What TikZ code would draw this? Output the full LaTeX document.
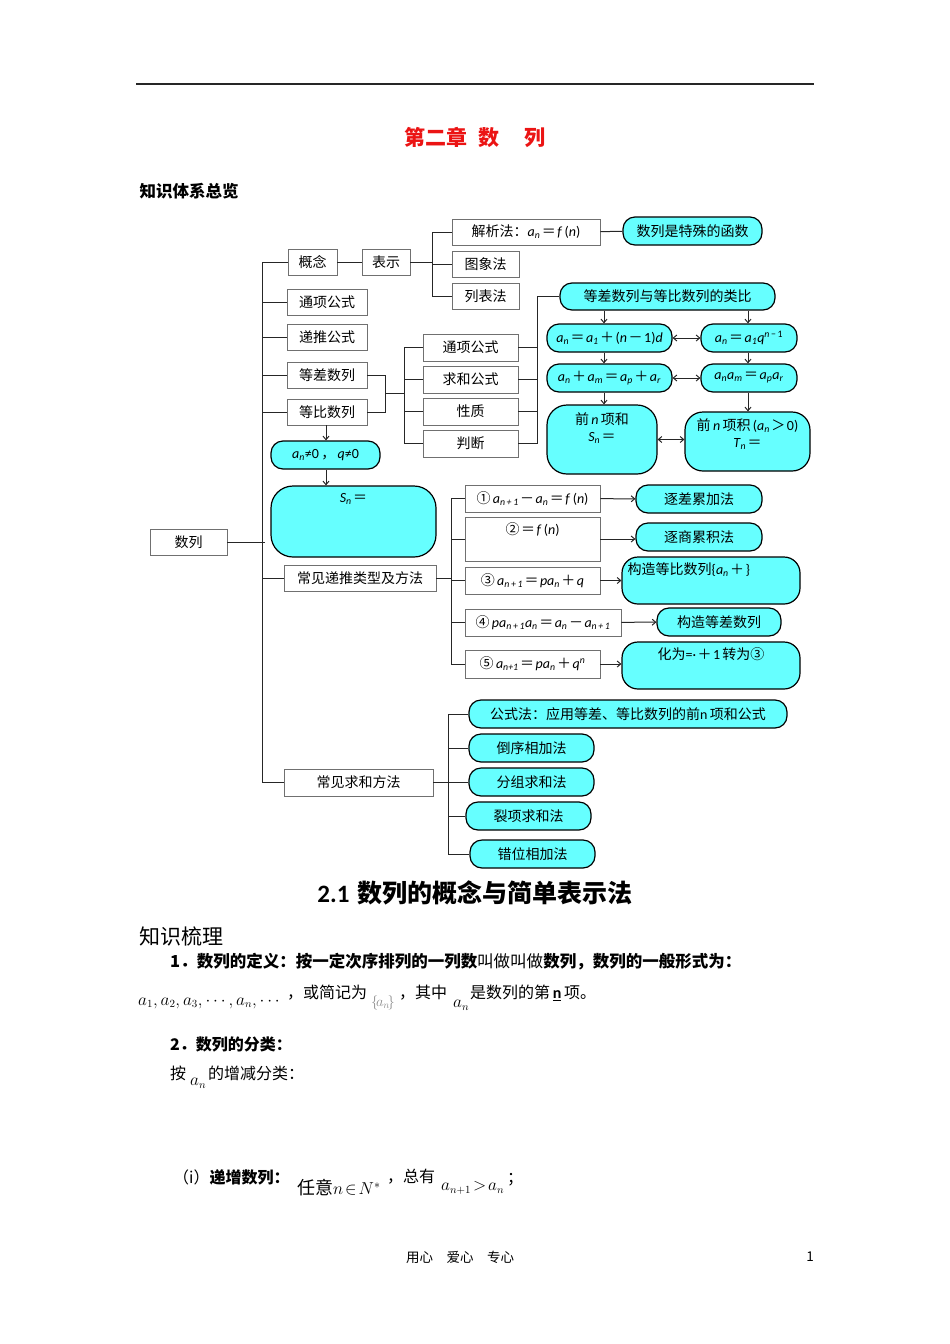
\documentclass[tikz,border=0pt]{standalone}
\usepackage{fontspec}
\setmainfont{Noto Sans CJK SC}
\newfontfamily\calfont{Carlito}
\usetikzlibrary{arrows.meta,positioning,calc}
\definecolor{cyanfill}{RGB}{102,255,255}
\definecolor{boxline}{RGB}{112,112,112}
\definecolor{titlered}{RGB}{235,20,20}
\newcommand\bx{\fontsize{14}{17}\selectfont}
\newcommand\tx{\fontsize{16}{19}\selectfont}
\newcommand\mt[1]{{\calfont #1}}
\newcommand\vi[1]{{\calfont\textit{#1}}}
\newcommand\va[2]{{\calfont\textit{#1}\textsubscript{\textit{#2}}}}
\newcommand\eqs{\hspace{1.5pt}＝\hspace{1.5pt}}
\newcommand\pls{\hspace{1.5pt}＋\hspace{1.5pt}}
\newcommand\mns{\hspace{1.5pt}－\hspace{1.5pt}}

\begin{document}
\begin{tikzpicture}[x=1pt, y=-1pt,
    box/.style={draw=boxline, line width=0.9pt, fill=white, minimum height=26, inner sep=1pt, font=\bx},
    cy/.style={draw=black, line width=1.2pt, fill=cyanfill, rounded corners=12, minimum height=28, inner sep=1pt, font=\bx},
    link/.style={line width=1pt, black!85},
    arr/.style={link, -{Straight Barb[length=3.5pt,width=6pt]}},
    darr/.style={link, {Straight Barb[length=3.5pt,width=6pt]}-{Straight Barb[length=3.5pt,width=6pt]}},
    inlabel/.style={anchor=north, font=\bx, inner sep=1pt},
    line/.style={anchor=west, inner sep=0pt, font=\tx}]
  \useasboundingbox (0,0) rectangle (950,1344);
  % ---- page head
  \draw[line width=1.6pt, black!85] (136,84) -- (814,84);
  \node[text=titlered, font=\fontsize{21}{25}\selectfont\bfseries] (title) at (475,137)
    {第二章\hspace{12pt}数\hspace{25pt}列};
  \node[anchor=west, font=\fontsize{16.5}{20}\selectfont\bfseries] (overview) at (136,191) {知识体系总览};

  % ---- left column
  \node[box, minimum width=49] (gainian) at (312.5,262.5) {概念};
  \node[box, minimum width=48] (biaoshi) at (386,262.5) {表示};
  \node[box, minimum width=80] (tongxiang) at (327,302) {通项公式};
  \node[box, minimum width=80] (ditui) at (327,337) {递推公式};
  \node[box, minimum width=80] (dengcha) at (327,375) {等差数列};
  \node[box, minimum width=80] (dengbi) at (327,412) {等比数列};
  \node[cy, minimum width=109] (tiaojian) at (325.5,455) {\mt{\textit{a}\textsubscript{\textit{n}}≠0}\,，\,\mt{\textit{q}≠0}};
  \node[cy, minimum width=165, minimum height=71, rounded corners=22,
    label={[inlabel, yshift=-7pt]north:\va{S}{n}\eqs}] (dbsum) at (353.5,521.5) {};
  \node[box, minimum width=77] (shulie) at (188.5,542) {数列};
  \node[box, minimum width=152] (dituilei) at (360,578) {常见递推类型及方法};
  \node[box, minimum width=149, minimum height=27] (qiuhe) at (358.5,782.5) {常见求和方法};

  % ---- ways of writing a sequence
  \node[box, minimum width=148] (jiexi) at (526,232) {解析法：\va{a}{n}\eqs\vi{f}\,\mt{(}\vi{n}\mt{)}};
  \node[box, minimum width=67] (tuxiang) at (485.5,264) {图象法};
  \node[box, minimum width=67] (liebiao) at (485.5,296) {列表法};
  \node[cy, minimum width=139] (hanshu) at (692.5,231) {数列是特殊的函数};

  % ---- middle column
  \node[box, minimum width=95, minimum height=27] (mtx) at (470.5,347.5) {通项公式};
  \node[box, minimum width=95, minimum height=27] (mqh) at (470.5,379.5) {求和公式};
  \node[box, minimum width=95, minimum height=27] (mxz) at (470.5,411.5) {性质};
  \node[box, minimum width=95, minimum height=27] (mpd) at (470.5,443.5) {判断};

  % ---- the analogy block
  \node[cy, minimum width=215, minimum height=27] (leibi) at (667.5,296.5) {等差数列与等比数列的类比};
  \node[cy, minimum width=125] (ca) at (609.5,338) {\va{a}{n}\eqs\va{a}{1}\pls\mt{(}\vi{n}\mns\mt{1)}\vi{d}};
  \node[cy, minimum width=96] (cb) at (749,338) {\va{a}{n}\eqs\va{a}{1}\vi{q}\textsuperscript{\vi{n}\,\mt{−}\,\mt{1}}};
  \node[cy, minimum width=125] (cc) at (609.5,378) {\va{a}{n}\pls\va{a}{m}\eqs\va{a}{p}\pls\va{a}{r}};
  \node[cy, minimum width=96] (cd) at (749,378) {\va{a}{n}\va{a}{m}\eqs\va{a}{p}\va{a}{r}};
  \node[cy, minimum width=110, minimum height=69, rounded corners=20,
    label={[inlabel, align=center, yshift=-7pt]north:前\,\vi{n}\,项和\\\va{S}{n}\eqs}] (csum) at (602,439.5) {};
  \node[cy, minimum width=125, minimum height=59, rounded corners=18,
    label={[inlabel, align=center, yshift=-6pt]north:前\,\vi{n}\,项积\,\mt{(}\va{a}{n}\hspace{1.5pt}＞\hspace{1.5pt}\mt{0)}\\\va{T}{n}\eqs}] (cprod) at (747.5,441.5) {};

  % ---- recursion types
  \node[box, minimum width=135, minimum height=27] (r1) at (532.5,498.5) {①\,\va{a}{n\,+\,1}\mns\va{a}{n}\eqs\vi{f}\,\mt{(}\vi{n}\mt{)}};
  \node[box, minimum width=135, minimum height=44,
    label={[inlabel, yshift=-5pt]north:②\eqs\vi{f}\,\mt{(}\vi{n}\mt{)}}] (r2) at (532.5,539) {};
  \node[box, minimum width=135, minimum height=27] (r3) at (532.5,580.5) {③\,\va{a}{n\,+\,1}\eqs\vi{p}\va{a}{n}\pls\vi{q}};
  \node[box, minimum width=156, minimum height=27] (r4) at (543,622.5) {④\,\vi{p}\va{a}{n\,+\,1}\va{a}{n}\eqs\va{a}{n}\mns\va{a}{n\,+\,1}};
  \node[box, minimum width=135, minimum height=28] (r5) at (532.5,664) {⑤\,\va{a}{n+1}\eqs\vi{p}\va{a}{n}\pls\vi{q}\textsuperscript{\vi{n}}};
  \node[cy, minimum width=126] (m1) at (699,499) {逐差累加法};
  \node[cy, minimum width=126] (m2) at (699,537) {逐商累积法};
  \node[cy, minimum width=178, minimum height=47, rounded corners=16,
    label={[inlabel, anchor=north west, xshift=5pt, yshift=-5pt]north west:构造等比数列\mt{\{}\va{a}{n}\pls\mt{\}}}] (m3) at (711,580.5) {};
  \node[cy, minimum width=124] (m4) at (719,622) {构造等差数列};
  \node[cy, minimum width=178, minimum height=47, rounded corners=16,
    label={[inlabel, yshift=-5pt]north:化为\mt{=·}\pls\mt{1}\,转为③}] (m5) at (711,665.5) {};

  % ---- summation methods
  \node[cy, minimum width=318] (s1) at (628,714) {公式法：应用等差、等比数列的前\mt{n}\,项和公式};
  \node[cy, minimum width=125] (s2) at (531.5,748) {倒序相加法};
  \node[cy, minimum width=125] (s3) at (531.5,782) {分组求和法};
  \node[cy, minimum width=125] (s4) at (528.5,816) {裂项求和法};
  \node[cy, minimum width=125] (s5) at (532.5,854) {错位相加法};

  % ---- bracket positions
  \coordinate (trunk) at (262,0);
  \coordinate (br1) at (432,0);
  \coordinate (br2) at (385,393.5);
  \coordinate (br3) at (404,0);
  \coordinate (br4) at (537,0);
  \coordinate (br5) at (451,0);
  \coordinate (br6) at (448,0);
  \coordinate (ax1) at (604,0);
  \coordinate (ax2) at (748,0);
  \coordinate (ax3) at (326,0);

  % ---- connectors
  \draw[link] (gainian.west) -| (trunk |- qiuhe.west) -- (qiuhe.west);
  \foreach \n in {tongxiang,ditui,dengcha,dengbi,dituilei}
    \draw[link] (\n.west) -- (trunk |- \n.west);
  \draw[link] (shulie.east) -- ++(38,0);
  \draw[link] (gainian) -- (biaoshi);
  \draw[link] (biaoshi.east) -- (br1 |- biaoshi.east);
  \draw[link] (jiexi.west) -| (br1 |- liebiao.west) -- (liebiao.west);
  \draw[link] (tuxiang.west) -- (br1 |- tuxiang.west);
  \draw[link] (jiexi) -- (hanshu);
  \draw[link] (dengcha.east) -| (br2 |- dengbi.east) -- (dengbi.east);
  \draw[link] (br2) -- (br3 |- br2);
  \draw[link] (mtx.west) -| (br3 |- mpd.west) -- (mpd.west);
  \foreach \n in {mqh,mxz}
    \draw[link] (\n.west) -- (br3 |- \n.west);
  \draw[link] (mpd.east) -| (br4 |- leibi.west) -- (leibi.west);
  \foreach \n in {mtx,mqh,mxz}
    \draw[link] (\n.east) -- (br4 |- \n.east);
  % analogy arrows
  \draw[arr] (ax1 |- leibi.south) -- (ax1 |- ca.north);
  \draw[arr] (ax1 |- ca.south) -- (ax1 |- cc.north);
  \draw[arr] (ax1 |- cc.south) -- (ax1 |- csum.north);
  \draw[arr] (ax2 |- leibi.south) -- (ax2 |- cb.north);
  \draw[arr] (ax2 |- cb.south) -- (ax2 |- cd.north);
  \draw[arr] (ax2 |- cd.south) -- (ax2 |- cprod.north);
  \draw[darr] (ca) -- (cb);
  \draw[darr] (cc) -- (cd);
  \draw[darr] (csum.east) -- (csum.east -| cprod.west);
  \draw[arr] (ax3 |- dengbi.south) -- (ax3 |- tiaojian.north);
  \draw[arr] (ax3 |- tiaojian.south) -- (ax3 |- dbsum.north);
  % recursion bracket
  \draw[link] (dituilei.east) -- (br5 |- dituilei.east);
  \draw[link] (r1.west) -| (br5 |- r5.west) -- (r5.west);
  \foreach \n in {r2,r3,r4}
    \draw[link] (\n.west) -- (br5 |- \n.west);
  \draw[arr] (r1) -- (m1);
  \draw[arr] (r2.east) -- (r2.east -| m2.west);
  \draw[arr] (r3) -- (m3);
  \draw[arr] (r4) -- (m4);
  \draw[arr] (r5.east) -- (r5.east -| m5.west);
  % summation bracket
  \draw[link] (qiuhe.east) -- (br6 |- qiuhe.east);
  \draw[link] (s1.west) -| (br6 |- s5.west) -- (s5.west);
  \foreach \n in {s2,s3,s4}
    \draw[link] (\n.west) -- (br6 |- \n.west);

  % ---- text below the chart
  \node[font=\fontsize{25}{29}\selectfont\bfseries] (sec) at (475,893) {\mt{2.1}\hspace{8pt}数列的概念与简单表示法};
  \node[anchor=west, font=\fontsize{21}{25}\selectfont] (zslh) at (136,936) {知识梳理};
  \node[line, font=\fontsize{16.5}{19}\selectfont] (def) at (170,962) {\textbf{1．数列的定义：按一定次序排列的一列数}叫做叫做\textbf{数列，数列的一般形式为：}};
  \node[line] (seq) at (138,1003) {$a_1,a_2,a_3,\cdots,a_n,\cdots$};
  \node[line] (jianji) at (287,993) {，或简记为};
  \node[line, text=black!45, font=\fontsize{14}{17}\selectfont] (braces) at (371,1003) {$\{\!a_n\!\}$};
  \node[line] (qizhong) at (399,993) {，其中};
  \node[line] (an1) at (453,1005) {$a_n$};
  \node[line] (dinx) at (470,993) {是数列的第\,\underline{\mt{\textbf{n}}}\,项。};
  \node[line] (fenlei) at (170,1044) {\textbf{2．数列的分类：}};
  \node[line] (an) at (170,1073) {按};
  \node[line] (an2) at (190,1083) {$a_n$};
  \node[line] (zengjian) at (208,1073) {的增减分类：};
  \node[line] (dizeng) at (173,1177) {（i）\textbf{递增数列：}};
  \node[line, font=\fontsize{18}{22}\selectfont] (renyi) at (297,1188) {任意$n\!\in\! N^*$};
  \node[line] (zongyou) at (387,1177) {，总有};
  \node[line] (ineq) at (441,1188) {$a_{n+1}\!>\!a_n$};
  \node[line] (semi) at (507,1180) {；};
  % ---- page foot
  \node[font=\fontsize{13.5}{16}\selectfont] (foot) at (460,1257) {用心　爱心　专心};
  \node[font=\fontsize{13.5}{16}\selectfont] (pageno) at (810,1257) {1};
\end{tikzpicture}
\end{document}
